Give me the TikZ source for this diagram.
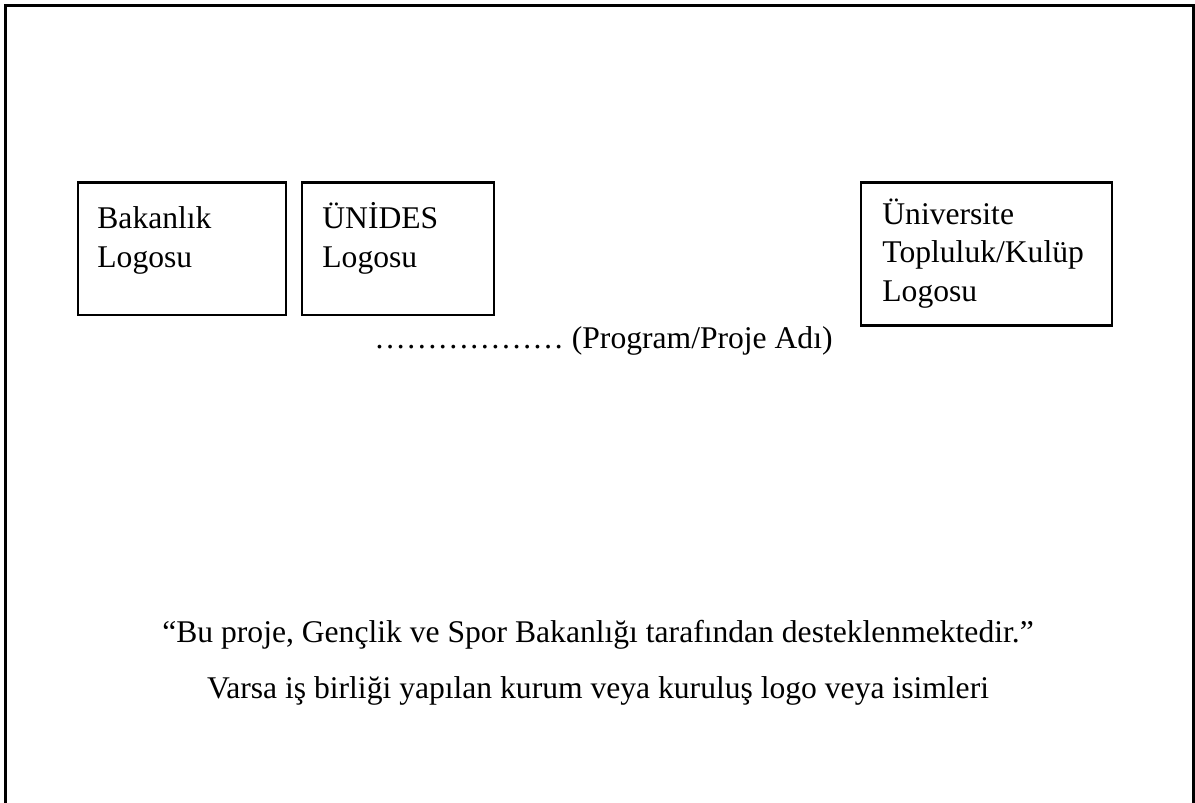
\documentclass[tikz,border=0pt]{standalone}
\usepackage{fontspec}
\setmainfont{Liberation Serif}
\usetikzlibrary{positioning}

\begin{document}
\begin{tikzpicture}[
      x=0.5pt, y=-0.5pt,
      font=\fontsize{15.8}{19.25}\selectfont,
      frame/.style={draw, line width=1.5pt},
      logobox/.style={draw, line width=1.3pt, anchor=north west, inner sep=0pt},
      logotext/.style={anchor=base west, inner sep=0pt, align=left},
      plaintext/.style={anchor=base, inner sep=0pt},
      ]
      \useasboundingbox (0,0) rectangle (1195,803);
      \draw[frame] (5.5,5.5) rectangle (1193.5,830);

      % logo boxes
      \node[logobox, minimum width=104pt, minimum height=66.4pt]   (bakanlik)   at (76.7,181)  {};
      \node[logobox, minimum width=96pt, minimum height=66.4pt]    (unides)     at (300.7,181) {};
      \node[logobox, minimum width=125.5pt, minimum height=71.5pt] (universite) at (859.7,181) {};

      % base anchor sits on the last line
      \node[logotext] (bakanlikyazi)   at (97,267)  {Bakanlık\\Logosu};
      \node[logotext] (unidesyazi)     at (322,267) {ÜNİDES\\Logosu};
      \node[logotext] (universiteyazi) at (882,301) {Üniversite\\Topluluk/Kulüp\\Logosu};

      % program name and footer
      \node[logotext] (projeadi) at (374,348) {……………… (Program/Proje Adı)};
      \node[plaintext] (destek) at (598,642) {“Bu proje, Gençlik ve Spor Bakanlığı tarafından desteklenmektedir.”};
      \node[plaintext] (isbirligi) [below=28pt of destek.base, anchor=base] {Varsa iş birliği yapılan kurum veya kuruluş logo veya isimleri};
    \end{tikzpicture}
\end{document}
